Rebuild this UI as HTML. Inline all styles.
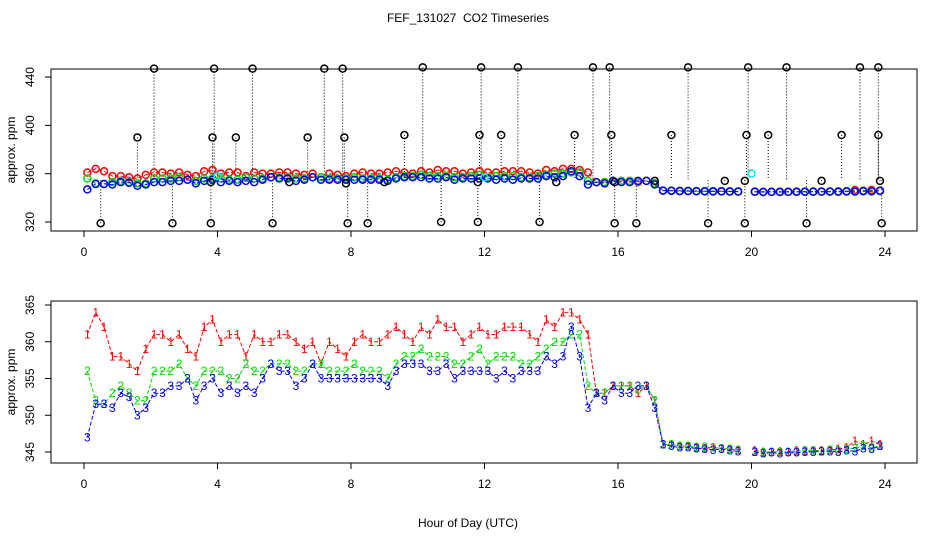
<!DOCTYPE html>
<html><head><meta charset="utf-8"><style>
body{margin:0;background:#fff}
svg{font-family:"Liberation Sans",sans-serif}
</style></head><body>
<svg id="c" width="936" height="540" xmlns="http://www.w3.org/2000/svg">
<rect width="936" height="540" fill="#fff"/>
<text x="468" y="22" text-anchor="middle" font-size="12" style="white-space:pre" xml:space="preserve">FEF_131027  CO2 Timeseries</text>
<text x="468" y="527" text-anchor="middle" font-size="12">Hour of Day (UTC)</text>
<g id="top"></g>
<g id="bot"></g>
</svg>
<script>
const hours=[0.1,0.35,0.6,0.85,1.1,1.35,1.6,1.85,2.1,2.35,2.6,2.85,3.1,3.35,3.6,3.85,4.1,4.35,4.6,4.85,5.1,5.35,5.6,5.85,6.1,6.35,6.6,6.85,7.1,7.35,7.6,7.85,8.1,8.35,8.6,8.85,9.1,9.35,9.6,9.85,10.1,10.35,10.6,10.85,11.1,11.35,11.6,11.85,12.1,12.35,12.6,12.85,13.1,13.35,13.6,13.85,14.1,14.35,14.6,14.85,15.1,15.35,15.6,15.85,16.1,16.35,16.6,16.85,17.1,17.35,17.6,17.85,18.1,18.35,18.6,18.85,19.1,19.35,19.6,19.85,20.1,20.35,20.6,20.85,21.1,21.35,21.6,21.85,22.1,22.35,22.6,22.85,23.1,23.35,23.6,23.85];
const s1=[361,364,362,358,358,357,356,359,361,361,360,361,359,358,362,363,360,361,361,358,361,360,360,361,361,360,359,360,357,360,359,358,360,361,360,360,361,362,361,360,362,361,363,362,362,360,361,362,361,361,362,362,362,361,360,363,362,364,364,363,361,353,353,354,354,354,353,354,352,346,346,345.8,345.8,345.6,345.5,345.6,345.5,345.4,345.3,null,345.2,345,345,345.1,345,345.2,345.1,345.2,345.2,345.3,345.4,345.6,346.5,346,346.5,346];
const s2=[356,352,351.5,353,354,353,352,352,356,356,356,357,355,354,356,356,356,355,355,357,356,356,357,357,357,356,356,357,357,356,356,356,357,356,356,356,355,357,358,358,359,358,358,358,357,357,358,359,357,358,358,358,357,357,358,359,360,360,361,361,354,353,353,354,354,354,353.5,354,352,346,346,345.8,345.8,345.7,345.7,345.6,345.5,345.4,345.3,null,345,344.9,345,345,345,345.1,345.2,345.2,345.1,345.3,345.2,345.4,345.5,345.8,345.6,345.8];
const s3=[347,351.5,351.5,351,353,352.5,350,351,353,353,354,354,355,352,354,355,353,354,353,354,353,355,357,356,356,354,355,357,355,355,355,355,355,355,355,355,354,356,357,357,357,356,356,357,355,356,356,356,356,355,356,355,356,356,356,358,357,358,362,358,351,353,352,354,353,353,354,354,351,346,345.8,345.6,345.6,345.5,345.4,345.3,345.4,345.2,345.1,null,345,344.8,344.9,344.8,344.9,344.9,345,345,345.1,345.1,345,345.2,345.1,345.5,345.4,345.8];
const outHours=[2.1,3.9,5.05,7.2,7.75,10.15,11.9,13.0,15.25,15.75,18.1,19.9,21.05,23.25,23.8,1.6,3.85,4.55,6.7,7.8,9.6,11.85,12.5,14.7,15.8,17.6,19.85,20.5,22.7,23.8,3.8,6.15,7.85,9.0,11.8,14.15,15.9,17.1,19.2,19.8,22.1,23.85,0.5,2.65,3.8,5.65,7.9,8.5,10.7,11.8,13.65,15.9,16.55,18.7,19.8,21.65,23.9];
const outVals=[447,447,447,447,447,448,448,448,448,448,448,448,448,448,448,390,390,390,390,390,392,392,392,392,392,392,392,392,392,392,353,353,352,353,353,353,353,354,354,354,354,354,319,319,319,319,319,319,320,320,320,319,319,319,319,319,319];
const cyanHours=[4.0,12.0,20.0];
const cyanVals=[358,357,360];
const xTicks=[0,4,8,12,16,20,24];
const topTicks=[320,360,400,440];
const botTicks=[345,350,355,360,365];

const NS="http://www.w3.org/2000/svg";
function mk(p,tag,a){const e=document.createElementNS(NS,tag);for(const k in a)e.setAttribute(k,a[k]);p.appendChild(e);return e;}
const X=h=>84+h*33.375;
const YT=v=>222-(v-320)*1.208;
const YB=v=>452-(v-345)*7.35;
const colors=["#ff0000","#00dd00","#0000ff"];
const series=[s1,s2,s3];

function axes(g,top,bot,yticks,Y,labY){
  const box=mk(g,'rect',{x:51,y:top,width:866,height:bot-top,fill:'none',stroke:'#000'});
  
  
  xTicks.forEach(t=>{
    const l=mk(g,'line',{x1:X(t),x2:X(t),y1:bot,y2:bot+6,stroke:'#000'});
    
    
    const tx=mk(g,'text',{x:X(t),y:bot+25,'text-anchor':'middle','font-size':12});
    tx.textContent=t;
    
    
  });
  yticks.forEach(t=>{
    const l=mk(g,'line',{x1:45,x2:51,y1:Y(t),y2:Y(t),stroke:'#000'});
    
    
    const tx=mk(g,'text',{x:34,y:Y(t),'text-anchor':'middle','font-size':12,transform:`rotate(-90 34 ${Y(t)})`});
    tx.textContent=t;
    
    
  });
  const yl=mk(g,'text',{x:15,y:labY,'text-anchor':'middle','font-size':12,transform:`rotate(-90 15 ${labY})`});
  yl.textContent='approx. ppm';
  
  
}
function path(g,s,Y,col,dash){
  let d='',pen=false;
  s.forEach((v,i)=>{if(v==null){pen=false;return;}d+=(pen?'L':'M')+X(hours[i]).toFixed(1)+' '+Y(v).toFixed(1);pen=true;});
  const p=mk(g,'path',{d:d,fill:'none',stroke:col,'stroke-dasharray':dash});
  return p;
}
const T=document.getElementById('top'),B=document.getElementById('bot');
axes(T,69,231,topTicks,YT,150);
axes(B,301,463,botTicks,YB,382);

outHours.forEach((h,i)=>{
  const l=mk(T,'line',{x1:X(h),x2:X(h),y1:YT(outVals[i]),y2:YT(355),stroke:'#000','stroke-dasharray':'1 2'});
  
  
});
series.forEach((s,k)=>{
  const p=path(T,s,YT,colors[k],'4 2');
  
  
  s.forEach((v,i)=>{if(v==null)return;
    const c=mk(T,'circle',{cx:X(hours[i]),cy:YT(v),r:3.5,fill:'none',stroke:colors[k],'stroke-width':1.5});
    
    
  });
});
outHours.forEach((h,i)=>{
  const c=mk(T,'circle',{cx:X(h),cy:YT(outVals[i]),r:3.5,fill:'none',stroke:'#000','stroke-width':1.5});
  
  
});
cyanHours.forEach((h,i)=>{
  const c=mk(T,'circle',{cx:X(h),cy:YT(cyanVals[i]),r:3.5,fill:'none',stroke:'#00e5ee','stroke-width':1.5});
  
  
});
series.forEach((s,k)=>{
  const p=path(B,s,YB,colors[k],'4 2');
  
  
  s.forEach((v,i)=>{if(v==null)return;
    const t=mk(B,'text',{x:X(hours[i]),y:YB(v)+4,'text-anchor':'middle','font-size':12,fill:colors[k]});
    t.textContent=String(k+1);
    
    
  });
});
</script>
</body></html>
